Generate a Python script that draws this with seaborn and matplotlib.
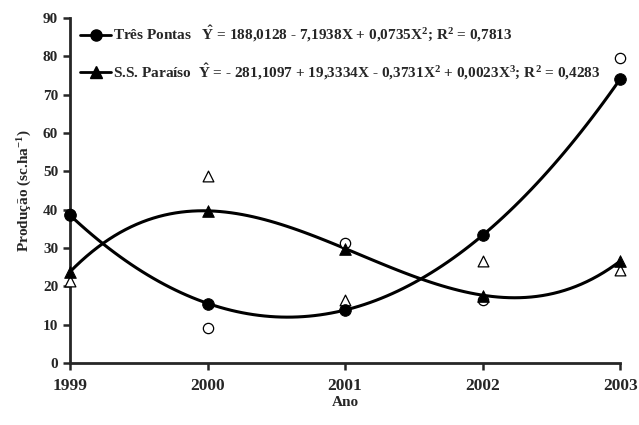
import numpy as np
import pandas as pd
import seaborn as sns
import matplotlib.pyplot as plt
from matplotlib.lines import Line2D

# Data
anos = [1999, 2000, 2001, 2002, 2003]
tres_pontas_obs = [38.9, 9.0, 31.3, 16.5, 79.5]
tres_pontas_fit = [38.5, 15.5, 13.9, 33.4, 74.1]
paraiso_obs = [21.5, 48.7, 16.3, 26.7, 24.3]
paraiso_fit = [23.8, 39.7, 29.8, 17.5, 26.7]

label_tp = (r"Três Pontas   $\hat{Y}$ = 188,0128 - 7,1938X + 0,0735X$^{2}$; "
            r"R$^{2}$ = 0,7813")
label_ss = (r"S.S. Paraíso  $\hat{Y}$ = - 281,1097 + 19,3334X - 0,3731X$^{2}$ + "
            r"0,0023X$^{3}$; R$^{2}$ = 0,4283")

df = pd.DataFrame({"ano": anos, "tp_obs": tres_pontas_obs, "tp_fit": tres_pontas_fit,
                   "ss_obs": paraiso_obs, "ss_fit": paraiso_fit})

sns.set_style("ticks")
plt.rcParams["font.family"] = ["Liberation Serif", "DejaVu Serif"]
plt.rcParams["font.weight"] = "bold"
plt.rcParams["mathtext.fontset"] = "custom"
plt.rcParams["mathtext.rm"] = "Liberation Serif:bold"
plt.rcParams["mathtext.it"] = "Liberation Serif:bold"
plt.rcParams["mathtext.bf"] = "Liberation Serif:bold"

fig = plt.figure(figsize=(6.39, 4.25), dpi=100)
ax = fig.add_axes([0.1095, 0.146, 0.861, 0.812])

# fitted curves
sns.regplot(data=df, x="ano", y="tp_obs", order=2, ci=None, scatter=False, ax=ax,
            truncate=True, line_kws={"color": "black", "lw": 2.2})
sns.regplot(data=df, x="ano", y="ss_obs", order=3, ci=None, scatter=False, ax=ax,
            truncate=True, line_kws={"color": "black", "lw": 2.2})

# observed values (open markers)
sns.scatterplot(data=df, x="ano", y="tp_obs", marker="o", s=55, facecolor="white",
                edgecolor="black", linewidth=0.9, ax=ax, zorder=3, clip_on=False)
sns.scatterplot(data=df, x="ano", y="ss_obs", marker="^", s=60, facecolor="white",
                edgecolor="black", linewidth=0.9, ax=ax, zorder=3, clip_on=False)

# estimated values (filled markers)
sns.scatterplot(data=df, x="ano", y="tp_fit", marker="o", s=70, color="black",
                edgecolor="black", ax=ax, zorder=4, clip_on=False)
sns.scatterplot(data=df, x="ano", y="ss_fit", marker="^", s=70, color="black",
                edgecolor="black", ax=ax, zorder=4, clip_on=False)

ax.set_xlim(1999, 2003)
ax.set_ylim(0, 90)
ax.set_xticks(anos)
ax.set_yticks(range(0, 91, 10))
ax.set_xlabel("Ano", fontsize=11, fontweight="bold", labelpad=1)
ax.set_ylabel(r"Produção (sc.ha$^{-1}$)", fontsize=11, fontweight="bold", labelpad=6)
ax.tick_params(axis="both", width=1.8, length=5, direction="out")
ax.tick_params(axis="y", labelsize=11)
ax.tick_params(axis="x", labelsize=12.5, pad=6)
for lab in ax.get_xticklabels() + ax.get_yticklabels():
    lab.set_fontweight("bold")
for side in ["left", "bottom"]:
    ax.spines[side].set_linewidth(2.0)
sns.despine(ax=ax)

handles = [
    Line2D([], [], color="black", lw=2, marker="o", markersize=8),
    Line2D([], [], color="black", lw=2, marker="^", markersize=8),
]
ax.legend(handles, [label_tp, label_ss], loc="upper left", frameon=False,
          fontsize=11, handlelength=2.0, handletextpad=0.1, labelspacing=1.15,
          borderaxespad=0.0, bbox_to_anchor=(0.008, 1.0))

fig.savefig("out.png", dpi=100)
